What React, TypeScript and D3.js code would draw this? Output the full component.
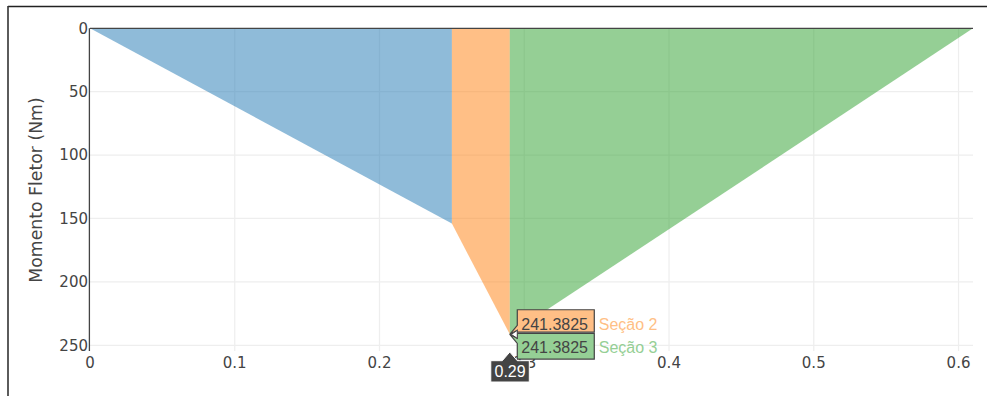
import React from "react";
import * as d3 from "d3";

// ---- data ----
const sec1X = [0, 0.25];
const sec1M = [0, 154];
const sec2X = [0.25, 0.29];
const sec2M = [154, 241.3825];
const sec3X = [0.29, 0.61];
const sec3M = [241.3825, 0];
const seriesNames = ["Seção 1", "Seção 2", "Seção 3"];
const xTicks = [0, 0.1, 0.2, 0.3, 0.4, 0.5, 0.6];
const xTickLabels = ["0", "0.1", "0.2", "0.3", "0.4", "0.5", "0.6"];
const yTicks = [0, 50, 100, 150, 200, 250];
const yTickLabels = ["0", "50", "100", "150", "200", "250"];
const hoverX = 0.29;
const hoverLabelX = "0.29";
const hoverValues = [241.3825, 241.3825];
const hoverNames = ["Seção 2", "Seção 3"];
const yTitle = "Momento Fletor (Nm)";

const W = 987;
const H = 396;
const fills = ["rgba(31,119,180,0.5)", "rgba(255,127,14,0.5)", "rgba(44,160,44,0.5)"];
const solid = ["#8fbbd9", "#ffbf86", "#95cf95"];
const tickFont = "'DejaVu Sans', Verdana, sans-serif";
const hoverFont = "'Liberation Sans', Arial, sans-serif";

export default function App() {
  const x = d3.scaleLinear().domain([0, 0.61]).range([90, 973]);
  const y = d3.scaleLinear().domain([0, 254.5]).range([28.3, 351]);
  const series = [
    { xs: sec1X, ms: sec1M },
    { xs: sec2X, ms: sec2M },
    { xs: sec3X, ms: sec3M },
  ];
  const area = d3
    .area<[number, number]>()
    .x((d) => x(d[0]))
    .y0(() => y(0))
    .y1((d) => y(d[1]));

  const px = x(hoverX);
  const py = y(hoverValues[0]);
  const a = 7.5;
  const boxL = px + a;
  const boxR = boxL + 77;
  const topPath = `M${px},${py}L${boxL},${py - 4}V${py - 2.3}H${boxR}V${py - 24.6}H${boxL}V${py - 9}Z`;
  const botPath = `M${px},${py}L${boxL},${py + 4}V${py - 1}H${boxR}V${py + 24.7}H${boxL}V${py + 9}Z`;
  const yb = y.range()[1];
  const xlabPath = `M${px},${yb + 1}L${px + a},${yb + 9.7}H${px + 19.5}V${yb + 31}H${px - 19}V${yb + 9.7}H${px - a}Z`;

  return (
    <svg
      width={W}
      height={H}
      style={{ position: "absolute", left: 0, top: 0, background: "#fff" }}
    >
      {/* frame */}
      <line x1={8} y1={6.5} x2={W} y2={6.5} stroke="#222" strokeWidth={1.6} />
      <line x1={8} y1={6} x2={8} y2={H} stroke="#333" strokeWidth={1.6} />

      {/* grid */}
      {xTicks.slice(1).map((t) => (
        <line key={"gx" + t} x1={x(t)} x2={x(t)} y1={y.range()[0]} y2={y.range()[1]} stroke="#eee" strokeWidth={1.25} />
      ))}
      {yTicks.slice(1).map((t) => (
        <line key={"gy" + t} x1={x.range()[0]} x2={x.range()[1]} y1={y(t)} y2={y(t)} stroke="#eee" strokeWidth={1.25} />
      ))}

      {/* fills */}
      {series.map((s, i) => (
        <path
          key={seriesNames[i]}
          d={area(s.xs.map((v, j) => [v, s.ms[j]] as [number, number])) || ""}
          fill={fills[i]}
          stroke="none"
        />
      ))}

      {/* zero lines */}
      <line x1={x.range()[0]} x2={x.range()[1]} y1={y(0)} y2={y(0)} stroke="#444" strokeWidth={1.3} />
      <line x1={x(0) - 0.6} x2={x(0) - 0.6} y1={y.range()[0]} y2={y.range()[1]} stroke="#444" strokeWidth={1.3} />

      {/* tick labels */}
      {xTicks.map((t, i) => (
        <text key={"xt" + t} x={x(t)} y={367.5} textAnchor="middle" fontFamily={tickFont} fontSize={15} fill="#444">
          {xTickLabels[i]}
        </text>
      ))}
      {yTicks.map((t, i) => (
        <text key={"yt" + t} x={88} y={y(t) + 5.4} textAnchor="end" fontFamily={tickFont} fontSize={15} fill="#444">
          {yTickLabels[i]}
        </text>
      ))}

      {/* y title */}
      <text
        transform={`translate(42,190) rotate(-90)`}
        textAnchor="middle"
        fontFamily={tickFont}
        fontSize={17.3}
        fill="#444"
      >
        {yTitle}
      </text>

      {/* hover labels */}
      <path d={topPath} fill={solid[1]} stroke="#444" strokeWidth={1.2} />
      <path d={botPath} fill={solid[2]} stroke="#444" strokeWidth={1.2} />
      <path d={`M${px + 1.5},${py}L${boxL},${py - 4}V${py + 4}Z`} fill="#fff" stroke="#444" strokeWidth={1} />
      <text x={boxL + 4} y={py - 4.5} fontFamily={hoverFont} fontSize={16} fill="#444">
        {hoverValues[0].toFixed(4)}
      </text>
      <text x={boxR + 4.5} y={py - 4.5} fontFamily={hoverFont} fontSize={16} fill={solid[1]}>
        {hoverNames[0]}
      </text>
      <text x={boxL + 4} y={py + 19} fontFamily={hoverFont} fontSize={16} fill="#444">
        {hoverValues[1].toFixed(4)}
      </text>
      <text x={boxR + 4.5} y={py + 19} fontFamily={hoverFont} fontSize={16} fill={solid[2]}>
        {hoverNames[1]}
      </text>

      <path d={xlabPath} fill="#444" stroke="#fff" strokeWidth={1} />
      <text x={px + 0.3} y={yb + 25.5} textAnchor="middle" fontFamily={hoverFont} fontSize={16} fill="#fff">
        {hoverLabelX}
      </text>
    </svg>
  );
}
